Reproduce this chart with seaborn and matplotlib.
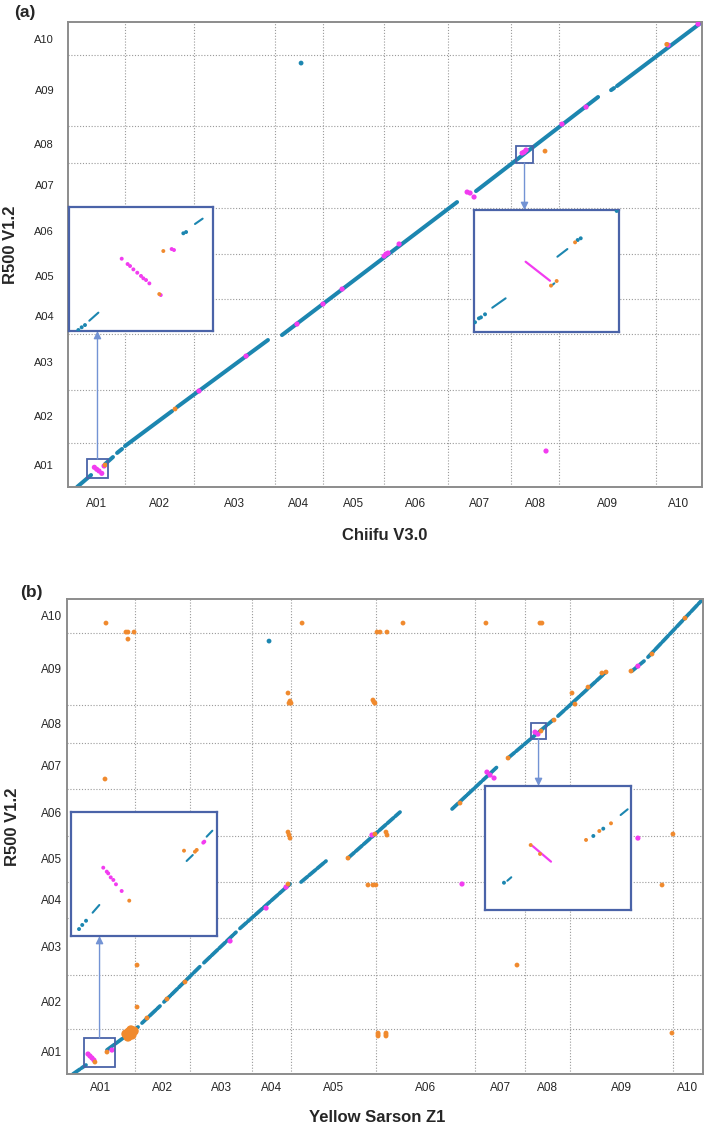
import numpy as np
import pandas as pd
import matplotlib
matplotlib.use("Agg")
import matplotlib.pyplot as plt
import seaborn as sns
from matplotlib.patches import Rectangle
from matplotlib.transforms import blended_transform_factory

# ---------------- data ----------------
chroms = ["A01", "A02", "A03", "A04", "A05", "A06", "A07", "A08", "A09", "A10"]
chiifu_len = [34.6, 41.9, 49.2, 29.1, 37.0, 38.9, 38.3, 29.1, 58.9, 27.9]   # Mb, x of (a)
r500_len = [36.8, 43.4, 46.3, 29.5, 37.3, 38.1, 37.2, 30.7, 58.2, 27.5]     # Mb, y of (a),(b)
ys_len = [41.2, 33.3, 37.5, 23.6, 51.5, 59.9, 30.3, 27.2, 62.3, 18.2]       # Mb, x of (b)

# panel (a): collinear blocks (global Mb)
a_seg_x0 = [5.5, 22.5, 29.8, 34.6, 66.2, 129.9, 247.7, 329.7, 333.3]
a_seg_y0 = [0.0, 19.0, 28.2, 33.9, 66.2, 125.8, 245.0, 328.6, 332.0]
a_seg_x1 = [14.0, 27.3, 32.8, 63.2, 121.4, 236.2, 321.8, 331.5, 384.9]
a_seg_y1 = [9.9, 24.8, 31.5, 62.9, 121.7, 235.9, 322.9, 330.3, 385.0]
# panel (a): inversions (magenta)
a_inv_x = [16.0, 17.4, 18.8, 20.5, 21.9, 79.5, 108.1, 139.0, 154.8, 166.4, 191.9, 193.1,
           194.3, 201.0, 242.3, 244.1, 246.5, 275.7, 276.9, 278.1, 299.9, 314.5, 364.3,
           382.5, 290.2]
a_inv_y = [16.3, 14.7, 13.3, 11.3, 17.4, 79.5, 108.4, 134.9, 151.5, 163.9, 191.2, 192.9,
           193.7, 201.2, 244.2, 243.4, 240.1, 276.5, 277.3, 279.0, 300.5, 314.6, 365.9,
           383.3, 29.8]
# panel (a): translocations (orange)
a_tr_x = [22.5, 65.0, 289.6, 363.5]
a_tr_y = [18.2, 64.6, 278.1, 366.5]
# panel (a): off-diagonal collinear hit
a_col_x = [141.5]
a_col_y = [351.0]
# panel (a): zoom windows (Mb)
zoom_a_x0 = [11.5, 272.0]
zoom_a_x1 = [24.3, 282.3]
zoom_a_y0 = [7.5, 268.2]
zoom_a_y1 = [23.2, 282.3]

# panel (b): collinear blocks
b_seg_x0 = [3.6, 24.2, 45.4, 58.7, 82.9, 104.7, 141.7, 170.1, 233.1, 267.0, 297.2, 342.0, 351.7]
b_seg_y0 = [0.0, 19.5, 41.3, 58.4, 90.2, 118.0, 155.6, 175.0, 214.8, 256.1, 290.1, 326.6, 337.9]
b_seg_x1 = [11.5, 43.0, 56.3, 80.5, 102.3, 135.0, 156.8, 201.6, 260.3, 294.2, 326.3, 349.3, 385.0]
b_seg_y1 = [7.3, 38.1, 55.1, 87.1, 114.9, 154.0, 172.6, 212.3, 248.8, 286.9, 325.8, 334.7, 385.0]
b_inv_x = [12.7, 13.9, 15.1, 16.3, 27.2, 98.7, 120.5, 132.6, 184.6, 239.1, 254.2, 256.1,
           258.5, 283.3, 285.1, 345.6, 345.6]
b_inv_y = [16.2, 14.6, 13.0, 11.3, 19.4, 107.8, 134.5, 151.5, 193.7, 154.0, 244.7, 242.3,
           239.9, 277.1, 275.5, 330.6, 191.2]
b_tr_x = [23.6, 35.7, 36.9, 40.6, 36.9, 142.3, 133.8, 134.4, 135.6, 135.0, 23.0, 134.4,
          133.8, 135.0, 187.7, 189.5, 193.7, 203.4, 253.6, 286.3, 287.5, 185.8, 186.4, 185.2,
          186.4, 193.1, 193.7, 366.8, 182.2, 185.2, 187.0, 360.2, 272.4, 188.3, 188.3, 188.3,
          193.1, 193.1, 193.1, 366.2, 42.4, 42.4, 48.4, 60.5, 71.4, 133.8, 170.1, 237.9,
          267.0, 286.9, 294.8, 305.7, 307.5, 315.4, 323.8, 326.3, 341.4, 354.1, 374.1, 16.9,
          24.2]
b_tr_y = [365.5, 358.2, 358.2, 358.2, 352.5, 365.5, 308.8, 300.6, 300.6, 302.3, 239.1, 193.7,
          196.1, 191.2, 358.2, 358.2, 358.2, 365.5, 365.5, 365.5, 365.5, 301.5, 300.6, 303.1,
          194.5, 196.1, 193.7, 194.5, 153.2, 153.2, 153.2, 153.2, 88.3, 33.2, 30.8, 32.0,
          33.2, 30.8, 32.0, 33.2, 88.3, 54.3, 45.4, 60.8, 74.6, 154.0, 175.0, 219.6,
          256.1, 278.0, 286.9, 308.8, 299.8, 313.6, 325.0, 325.8, 326.6, 340.4, 369.5, 9.7,
          17.8]
b_blob_x = [35.7, 37.5, 39.3, 36.9, 38.7, 40.6]
b_blob_y = [32.4, 34.0, 31.6, 30.0, 35.7, 34.8]
b_col_x = [122.3]
b_col_y = [350.9]
zoom_b_x0 = [10.3, 280.9]
zoom_b_x1 = [29.1, 290.0]
zoom_b_y0 = [5.7, 271.5]
zoom_b_y1 = [29.2, 284.4]

# zoomed windows, position in % of the window
a1_blue_x = [6.5, 8.8, 11.1, 79.4, 81.3]
a1_blue_y = [0.8, 3.0, 4.8, 78.8, 79.8]
a1_dash = [(14.1, 8.3, 20.4, 14.8), (87.5, 86.3, 92.8, 90.6)]
a1_mag_x = [36.6, 40.7, 42.4, 44.7, 47.4, 50.0, 51.6, 53.5, 55.8, 63.7, 71.3, 72.9]
a1_mag_y = [58.3, 54.0, 52.4, 49.7, 47.0, 44.4, 42.5, 41.1, 38.4, 29.0, 66.1, 65.3]
a1_org_x = [62.7, 65.5]
a1_org_y = [29.8, 64.5]

a2_blue_x = [0.7, 3.4, 4.8, 7.6, 71.5, 73.6, 98.4]
a2_blue_y = [8.0, 11.2, 12.0, 14.5, 75.4, 76.8, 99.2]
a2_dash = [(12.6, 19.9, 21.8, 27.6), (54.0, 38.5, 55.4, 39.9), (57.5, 61.7, 64.4, 68.0)]
a2_mag_line = [(35.6, 57.6, 52.4, 42.0)]
a2_org_x = [53.1, 57.0, 69.7]
a2_org_y = [38.0, 41.8, 73.5]

b1_blue_x = [5.5, 7.7, 10.3]
b1_blue_y = [5.6, 8.9, 12.3]
b1_dash = [(14.8, 18.8, 19.4, 25.0), (79.2, 60.5, 83.4, 65.3), (92.9, 80.1, 96.8, 84.9)]
b1_mag_x = [22.1, 24.5, 25.5, 27.2, 29.0, 30.8, 34.7, 90.6, 91.3]
b1_mag_y = [55.1, 51.9, 50.5, 47.3, 45.2, 41.7, 36.3, 75.3, 76.1]
b1_org_x = [39.9, 77.4, 84.9, 86.1]
b1_org_y = [28.5, 68.8, 68.0, 69.4]

b2_blue_x = [13.0, 74.2, 81.0]
b2_blue_y = [22.0, 59.7, 65.6]
b2_dash = [(15.3, 23.6, 18.0, 26.4), (92.9, 76.6, 97.7, 81.2)]
b2_mag_line = [(32.6, 51.6, 45.2, 39.0)]
b2_org_x = [31.3, 37.7, 69.2, 78.3, 86.3]
b2_org_y = [52.4, 45.2, 56.5, 63.7, 69.9]

# ---------------- style ----------------
TEAL = "#1c86b0"
MAG = "#f23cf0"
ORG = "#f08a2e"
BOX = "#4a63a8"
ARROW = "#7393d4"
GRID = "#9a9a9a"

sns.set_style("white")
plt.rcParams["font.family"] = ["Liberation Sans", "DejaVu Sans"]

fig = plt.figure(figsize=(7.09, 11.30), dpi=100)
axA = fig.add_axes([68 / 709, 1 - 487 / 1130, 634 / 709, 465 / 1130])
axB = fig.add_axes([67 / 709, 1 - 1074 / 1130, 636 / 709, 475 / 1130])


def seg_df(segs):
    rows = []
    for i, (x0, y0, x1, y1) in enumerate(segs):
        rows.append((i, x0, y0))
        rows.append((i, x1, y1))
    return pd.DataFrame(rows, columns=["seg", "x", "y"])


def draw_lines(ax, segs, color, lw, z=2, ls="-"):
    df = seg_df(segs)
    sns.lineplot(data=df, x="x", y="y", units="seg", estimator=None, sort=False,
                 color=color, lw=lw, ax=ax, legend=False, solid_capstyle="round",
                 dash_capstyle="round", linestyle=ls, zorder=z)


def dots(ax, x, y, color, s, z=3):
    sns.scatterplot(x=x, y=y, color=color, s=s, edgecolor="none", linewidth=0, ax=ax,
                    legend=False, zorder=z)


def style_main(ax, xlen, ylen, xs, ys, ypad, xpad):
    xb = np.concatenate([[0], np.cumsum(xlen)])
    yb = np.concatenate([[0], np.cumsum(ylen)])
    ax.set_xlim(0, xb[-1])
    ax.set_ylim(0, yb[-1])
    ax.set_xticks((xb[:-1] + xb[1:]) / 2)
    ax.set_xticklabels(chroms)
    ax.set_yticks((yb[:-1] + yb[1:]) / 2)
    ax.set_yticklabels(chroms)
    ax.set_xticks(xb[1:-1], minor=True)
    ax.set_yticks(yb[1:-1], minor=True)
    ax.grid(False, which="major")
    ax.grid(True, which="minor", color=GRID, linestyle=(0, (1, 1.6)), lw=0.8)
    ax.tick_params(axis="x", which="both", length=0, labelsize=xs, pad=xpad)
    ax.tick_params(axis="y", which="both", length=0, labelsize=ys, pad=ypad)
    for s in ax.spines.values():
        s.set_visible(True)
        s.set_color("#8c8c8c")
        s.set_linewidth(1.4)
    ax.set_axisbelow(True)


def make_inset(rect):
    axi = fig.add_axes(rect)
    axi.set_xlim(0, 100)
    axi.set_ylim(0, 100)
    axi.set_facecolor("white")
    for s in axi.spines.values():
        s.set_visible(True)
        s.set_color(BOX)
        s.set_linewidth(1.6)
    axi.set_zorder(5)
    return axi


def fill_inset(axi, bx, by, dash, mx, my, mline, ox, oy):
    draw_lines(axi, dash, TEAL, 1.5)
    if mline:
        draw_lines(axi, mline, MAG, 1.6)
    dots(axi, bx, by, TEAL, 8)
    if mx:
        dots(axi, mx, my, MAG, 8)
    dots(axi, ox, oy, ORG, 8)
    axi.set_xticks([])
    axi.set_yticks([])
    axi.set_xlabel("")
    axi.set_ylabel("")


def zoom_boxes(ax, x0, x1, y0, y1):
    for a, b, c, d in zip(x0, x1, y0, y1):
        ax.add_patch(Rectangle((a, c), b - a, d - c, fill=False, edgecolor=BOX, lw=1.3, zorder=4))


def arrow(ax, axi, cx, ystart, yend_frac):
    tr = blended_transform_factory(ax.transData, axi.transAxes)
    ax.annotate("", xy=(cx, yend_frac), xycoords=tr, xytext=(cx, ystart), textcoords="data",
                arrowprops=dict(arrowstyle="-|>", color=ARROW, lw=1.0, mutation_scale=11,
                                shrinkA=0, shrinkB=0), zorder=4, annotation_clip=False)


# ---------------- panel (a) ----------------
draw_lines(axA, list(zip(a_seg_x0, a_seg_y0, a_seg_x1, a_seg_y1)), TEAL, 2.9)
dots(axA, a_inv_x, a_inv_y, MAG, 14)
dots(axA, a_tr_x, a_tr_y, ORG, 12)
dots(axA, a_col_x, a_col_y, TEAL, 12)
style_main(axA, chiifu_len, r500_len, 8.5, 8.0, 10.0, 8)
zoom_boxes(axA, zoom_a_x0, zoom_a_x1, zoom_a_y0, zoom_a_y1)
axA.set_xlabel("Chiifu V3.0", fontsize=12, fontweight="bold")
axA.set_ylabel("R500 V1.2", fontsize=12, fontweight="bold")
axA.xaxis.set_label_coords(0.5, -0.088)
axA.yaxis.set_label_coords(-0.079, 0.52)

ia1 = make_inset([69 / 709, 1 - 331 / 1130, 144 / 709, 124 / 1130])
fill_inset(ia1, a1_blue_x, a1_blue_y, a1_dash, a1_mag_x, a1_mag_y, None, a1_org_x, a1_org_y)
ia2 = make_inset([474 / 709, 1 - 332 / 1130, 145 / 709, 122 / 1130])
fill_inset(ia2, a2_blue_x, a2_blue_y, a2_dash, [], [], a2_mag_line, a2_org_x, a2_org_y)
arrow(axA, ia1, (zoom_a_x0[0] + zoom_a_x1[0]) / 2, zoom_a_y1[0], 0.0)
arrow(axA, ia2, (zoom_a_x0[1] + zoom_a_x1[1]) / 2, zoom_a_y0[1], 1.0)

# ---------------- panel (b) ----------------
draw_lines(axB, list(zip(b_seg_x0, b_seg_y0, b_seg_x1, b_seg_y1)), TEAL, 2.7,
           ls=(0, (2.2, 0.6)))
dots(axB, b_inv_x, b_inv_y, MAG, 14)
dots(axB, b_tr_x, b_tr_y, ORG, 12)
dots(axB, b_blob_x, b_blob_y, ORG, 45)
dots(axB, b_col_x, b_col_y, TEAL, 12)
style_main(axB, ys_len, r500_len, 8.5, 8.5, 3.5, 5.5)
zoom_boxes(axB, zoom_b_x0, zoom_b_x1, zoom_b_y0, zoom_b_y1)
axB.set_xlabel("Yellow Sarson Z1", fontsize=12, fontweight="bold")
axB.set_ylabel("R500 V1.2", fontsize=12, fontweight="bold")
axB.xaxis.set_label_coords(0.488, -0.076)
axB.yaxis.set_label_coords(-0.074, 0.52)

ib1 = make_inset([71 / 709, 1 - 936 / 1130, 146 / 709, 124 / 1130])
fill_inset(ib1, b1_blue_x, b1_blue_y, b1_dash, b1_mag_x, b1_mag_y, None, b1_org_x, b1_org_y)
ib2 = make_inset([485 / 709, 1 - 910 / 1130, 146 / 709, 124 / 1130])
fill_inset(ib2, b2_blue_x, b2_blue_y, b2_dash, [], [], b2_mag_line, b2_org_x, b2_org_y)
arrow(axB, ib1, (zoom_b_x0[0] + zoom_b_x1[0]) / 2, zoom_b_y1[0], 0.0)
arrow(axB, ib2, (zoom_b_x0[1] + zoom_b_x1[1]) / 2, zoom_b_y0[1], 1.0)

fig.text(25 / 709, 1 - 13 / 1130, "(a)", fontsize=12.5, fontweight="bold", ha="center", va="center")
fig.text(31 / 709, 1 - 592 / 1130, "(b)", fontsize=12.5, fontweight="bold", ha="center", va="center")

fig.savefig("out.png", dpi=100)
